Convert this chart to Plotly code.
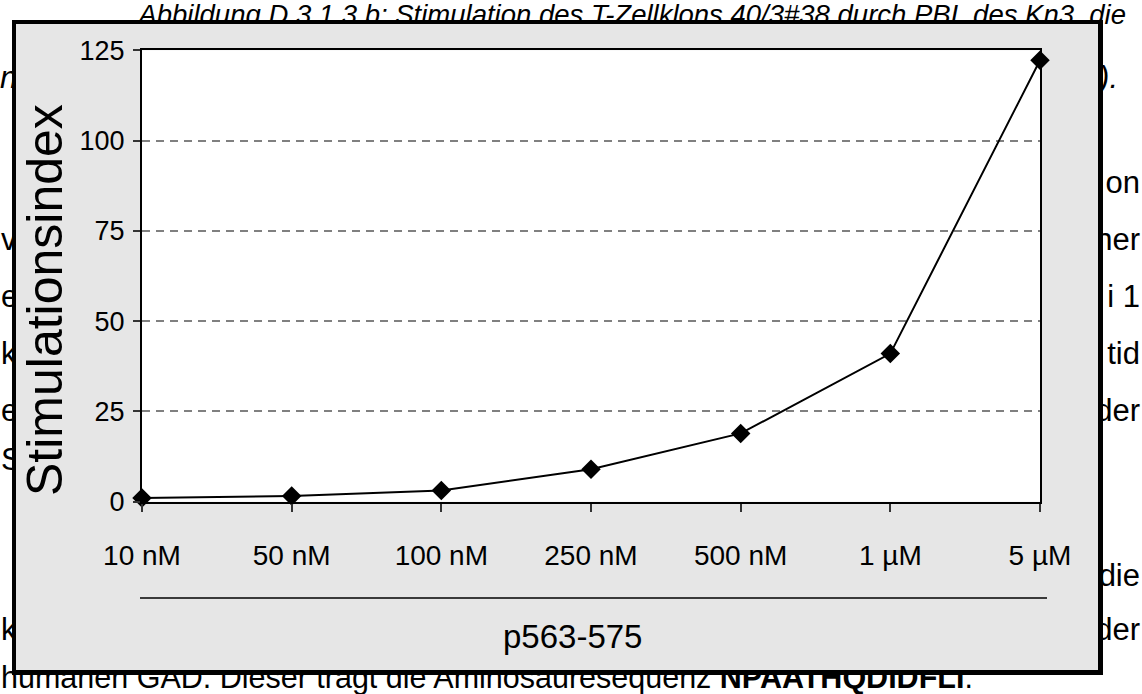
import plotly.graph_objects as go

# Peptide concentrations (p563-575) and resulting stimulation index
concentrations = ["10 nM", "50 nM", "100 nM", "250 nM", "500 nM", "1 µM", "5 µM"]
stim_index = [1.0, 1.6, 3.1, 9.0, 18.9, 41.0, 122.2]
y_ticks = [0, 25, 50, 75, 100, 125]

W, H = 1142, 694
SANS = "Liberation Sans, Arial, sans-serif"

# page layout (pixels): chart frame and plot area
FRAME = dict(x0=12, y0=20, x1=1103, y1=675)
PLOT = dict(x0=142, y0=50.2, x1=1040, y1=501.7)

fig = go.Figure()

# --- page text around the chart frame (the frame covers its middle) --------
caption_top = "<i>Abbildung D.3.1.3.b: Stimulation des T-Zellklons 40/3#38 durch PBL des Kn3, die</i>"
left_words = [(0, 80, "<i>n</i>"), (1, 242, "v"), (1, 299, "e"), (1, 356, "k"),
              (1, 413, "e"), (1, 462, "S"), (1, 632, "k")]
right_words = [(1118, 80, "<i>5).</i>"), (1140, 185, "on"), (1140, 242, "her"),
               (1140, 299, "i 1"), (1140, 356, "tid"), (1140, 413, "der"),
               (1140, 578, "die"), (1140, 632, "der")]
last_line = "humanen GAD. Dieser trägt die Aminosäuresequenz <b>NPAATHQDIDFLI</b>."


def add_text(points, pos, size):
    fig.add_trace(go.Scatter(
        x=[p[0] for p in points], y=[p[1] for p in points],
        text=[p[2] for p in points], mode="text", textposition=pos,
        textfont=dict(size=size, family=SANS, color="#000"),
        hoverinfo="skip", showlegend=False, xaxis="x", yaxis="y",
        cliponaxis=False,
    ))


add_text([(1126, 17, caption_top)], "middle left", 27.5)
add_text(left_words, "middle right", 31)
add_text(right_words, "middle left", 31)
add_text([(1, 680, last_line)], "middle right", 30.5)

# --- chart frame: grey fill, black border (heavier on right/bottom) -------
fx0, fy0, fx1, fy1 = FRAME["x0"], FRAME["y0"], FRAME["x1"], FRAME["y1"]
fig.add_trace(go.Scatter(
    x=[fx0, fx1, fx1, fx0, fx0], y=[fy0, fy0, fy1, fy1, fy0],
    mode="lines", fill="toself", fillcolor="#e6e6e6", line=dict(width=0),
    hoverinfo="skip", showlegend=False, xaxis="x", yaxis="y",
))


def rect(x0, y0, x1, y1):
    return [x0, x1, x1, x0, x0, None], [y0, y0, y1, y1, y0, None]


bx, by = [], []
for r in [(fx0, fy0, fx0 + 4, fy1), (fx0, fy0, fx1, fy0 + 4),
          (fx1 - 5, fy0, fx1, fy1), (fx0, fy1 - 5, fx1, fy1)]:
    xs, ys = rect(*r)
    bx += xs
    by += ys
fig.add_trace(go.Scatter(
    x=bx, y=by, mode="lines", fill="toself", fillcolor="#000",
    line=dict(width=0, color="#000"), hoverinfo="skip", showlegend=False,
    xaxis="x", yaxis="y",
))

# white plot area
px0, py0, px1, py1 = PLOT["x0"], PLOT["y0"], PLOT["x1"], PLOT["y1"]
fig.add_trace(go.Scatter(
    x=[px0, px1, px1, px0, px0], y=[py0, py0, py1, py1, py0],
    mode="lines", fill="toself", fillcolor="#ffffff", line=dict(width=0),
    hoverinfo="skip", showlegend=False, xaxis="x", yaxis="y",
))

# rule between category labels and axis title
fig.add_trace(go.Scatter(
    x=[140, 1047], y=[598, 598], mode="lines", line=dict(color="#000", width=1.5),
    hoverinfo="skip", showlegend=False, xaxis="x", yaxis="y",
))

# --- data series -----------------------------------------------------------
fig.add_trace(go.Scatter(
    x=concentrations, y=stim_index, mode="lines+markers",
    line=dict(color="#000", width=2),
    marker=dict(symbol="diamond", size=15, color="#000"),
    cliponaxis=False, showlegend=False, xaxis="x2", yaxis="y2",
))

fig.add_annotation(
    x=45, y=300, xref="x", yref="y", text="Stimulationsindex", textangle=-90,
    showarrow=False, font=dict(size=50, family=SANS, color="#000"),
    xanchor="center", yanchor="middle",
)
fig.add_annotation(
    x=572, y=636, xref="x", yref="y", text="p563-575",
    showarrow=False, font=dict(size=33, family=SANS, color="#000"),
    xanchor="center", yanchor="middle",
)

fig.update_layout(
    width=W, height=H, autosize=False,
    margin=dict(l=0, r=0, t=0, b=0, pad=0, autoexpand=False),
    paper_bgcolor="#ffffff", plot_bgcolor="rgba(0,0,0,0)",
    showlegend=False,
    xaxis=dict(domain=[0, 1], range=[0, W], visible=False, fixedrange=True,
               automargin=False),
    yaxis=dict(domain=[0, 1], range=[H, 0], visible=False, fixedrange=True,
               automargin=False),
    xaxis2=dict(
        domain=[px0 / W, px1 / W], anchor="y2", type="category",
        categoryorder="array", categoryarray=concentrations,
        range=[0, len(concentrations) - 1], automargin=False,
        showline=True, mirror=True, linecolor="#000", linewidth=2,
        showgrid=False, zeroline=False,
        ticks="outside", ticklen=8, tickwidth=1.5, tickcolor="#333",
        tickfont=dict(size=28, family=SANS, color="#000"),
        ticklabelstandoff=20,
    ),
    yaxis2=dict(
        domain=[1 - py1 / H, 1 - py0 / H], anchor="x2",
        range=[0, 125], tickvals=y_ticks, automargin=False,
        showline=True, mirror=True, linecolor="#000", linewidth=2,
        showgrid=True, gridcolor="#808080", griddash="8px,6px", gridwidth=1.5,
        zeroline=False,
        ticks="outside", ticklen=7, tickwidth=1.5, tickcolor="#333",
        tickfont=dict(size=27, family=SANS, color="#000"),
        ticklabelstandoff=3,
    ),
)

fig.write_html("out.html")
